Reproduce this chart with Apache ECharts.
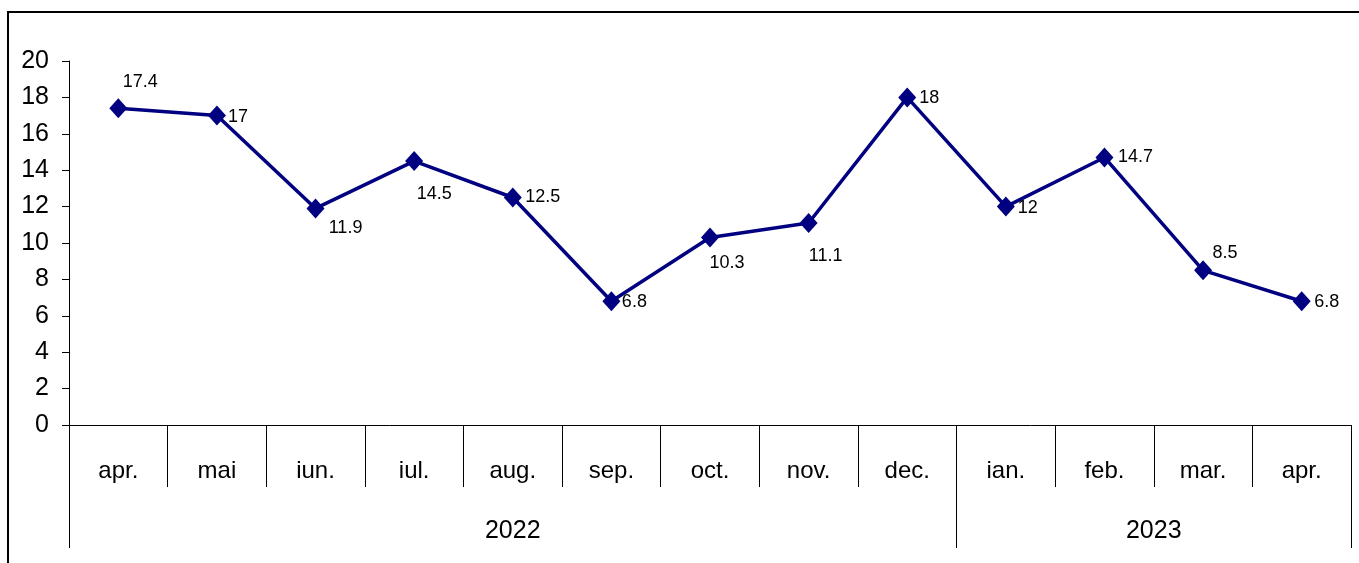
<!DOCTYPE html>
<html>
<head>
<meta charset="utf-8">
<script src="https://cdn.jsdelivr.net/npm/echarts@6/dist/echarts.min.js"></script>
<style>
html,body{margin:0;padding:0;background:#fff;}
#c{width:1359px;height:563px;}
</style>
</head>
<body>
<div id="c"></div>
<script>
var months = ['apr.','mai','iun.','iul.','aug.','sep.','oct.','nov.','dec.','ian.','feb.','mar.','apr.'];
var values = [17.4, 17, 11.9, 14.5, 12.5, 6.8, 10.3, 11.1, 18, 12, 14.7, 8.5, 6.8];
var years = ['2022', '2023'];
var yearMonthCounts = [9, 4];
var yTicks = [0, 2, 4, 6, 8, 10, 12, 14, 16, 18, 20];

var FONT = '"Liberation Sans Narrow", "Arial Narrow", "Liberation Sans", Arial, sans-serif';
var NAVY = '#000080';

// label offsets (center of text relative to marker)
var labelOffsets = [[22,-26],[21,1],[30,20],[20,33],[30,0],[23,1],[17,25],[17,33],[22,1],[22,1],[31,0],[22,-17],[25,1]];

// year spans on a 0..N value scale
var yearBounds = [0], yearCenters = [];
(function(){
  var acc = 0;
  for (var i = 0; i < yearMonthCounts.length; i++) {
    yearCenters.push(acc + yearMonthCounts[i] / 2);
    acc += yearMonthCounts[i];
    yearBounds.push(acc);
  }
})();

var chart = echarts.init(document.getElementById('c'), null, {renderer: 'canvas'});
chart.setOption({
  animation: false,
  backgroundColor: '#fff',
  graphic: [{
    type: 'rect', shape: {x: 8, y: 12, width: 1400, height: 600},
    style: {fill: 'none', stroke: '#000', lineWidth: 2}, z: 0
  }],
  grid: {left: 69, right: 8, top: 61, bottom: 138, containLabel: false},
  xAxis: [{
    type: 'category', data: months, boundaryGap: true,
    axisLine: {show: true, lineStyle: {color: '#000', width: 1}},
    axisTick: {show: true, interval: 0, length: 62, lineStyle: {color: '#000', width: 1}},
    axisLabel: {interval: 0, margin: 34, color: '#000', fontSize: 24, fontFamily: FONT},
    splitLine: {show: false}
  }, {
    type: 'value', min: 0, max: months.length, position: 'bottom',
    axisLine: {show: false},
    axisTick: {show: true, customValues: yearBounds, length: 123, lineStyle: {color: '#000', width: 1}},
    axisLabel: {customValues: yearCenters, margin: 94, color: '#000', fontSize: 25, fontFamily: FONT,
      formatter: function (v) { var i = yearCenters.indexOf(v); return i >= 0 ? years[i] : ''; }},
    splitLine: {show: false}
  }],
  yAxis: {
    type: 'value', min: yTicks[0], max: yTicks[yTicks.length - 1], interval: 2,
    axisLine: {show: true, lineStyle: {color: '#000', width: 1}},
    axisTick: {show: true, length: 7, lineStyle: {color: '#000'}},
    axisLabel: {margin: 20, color: '#000', fontSize: 25, fontFamily: FONT},
    splitLine: {show: false}
  },
  series: [{
    type: 'line', xAxisIndex: 0,
    data: values.map(function (v, i) {
      return {value: v, label: {offset: labelOffsets[i]}};
    }),
    symbol: 'diamond', symbolSize: [18, 20],
    lineStyle: {color: NAVY, width: 3.5},
    itemStyle: {color: NAVY},
    label: {show: true, position: 'inside', align: 'center', verticalAlign: 'middle',
      color: '#000', fontSize: 18, fontFamily: FONT}
  }]
});
</script>
</body>
</html>
